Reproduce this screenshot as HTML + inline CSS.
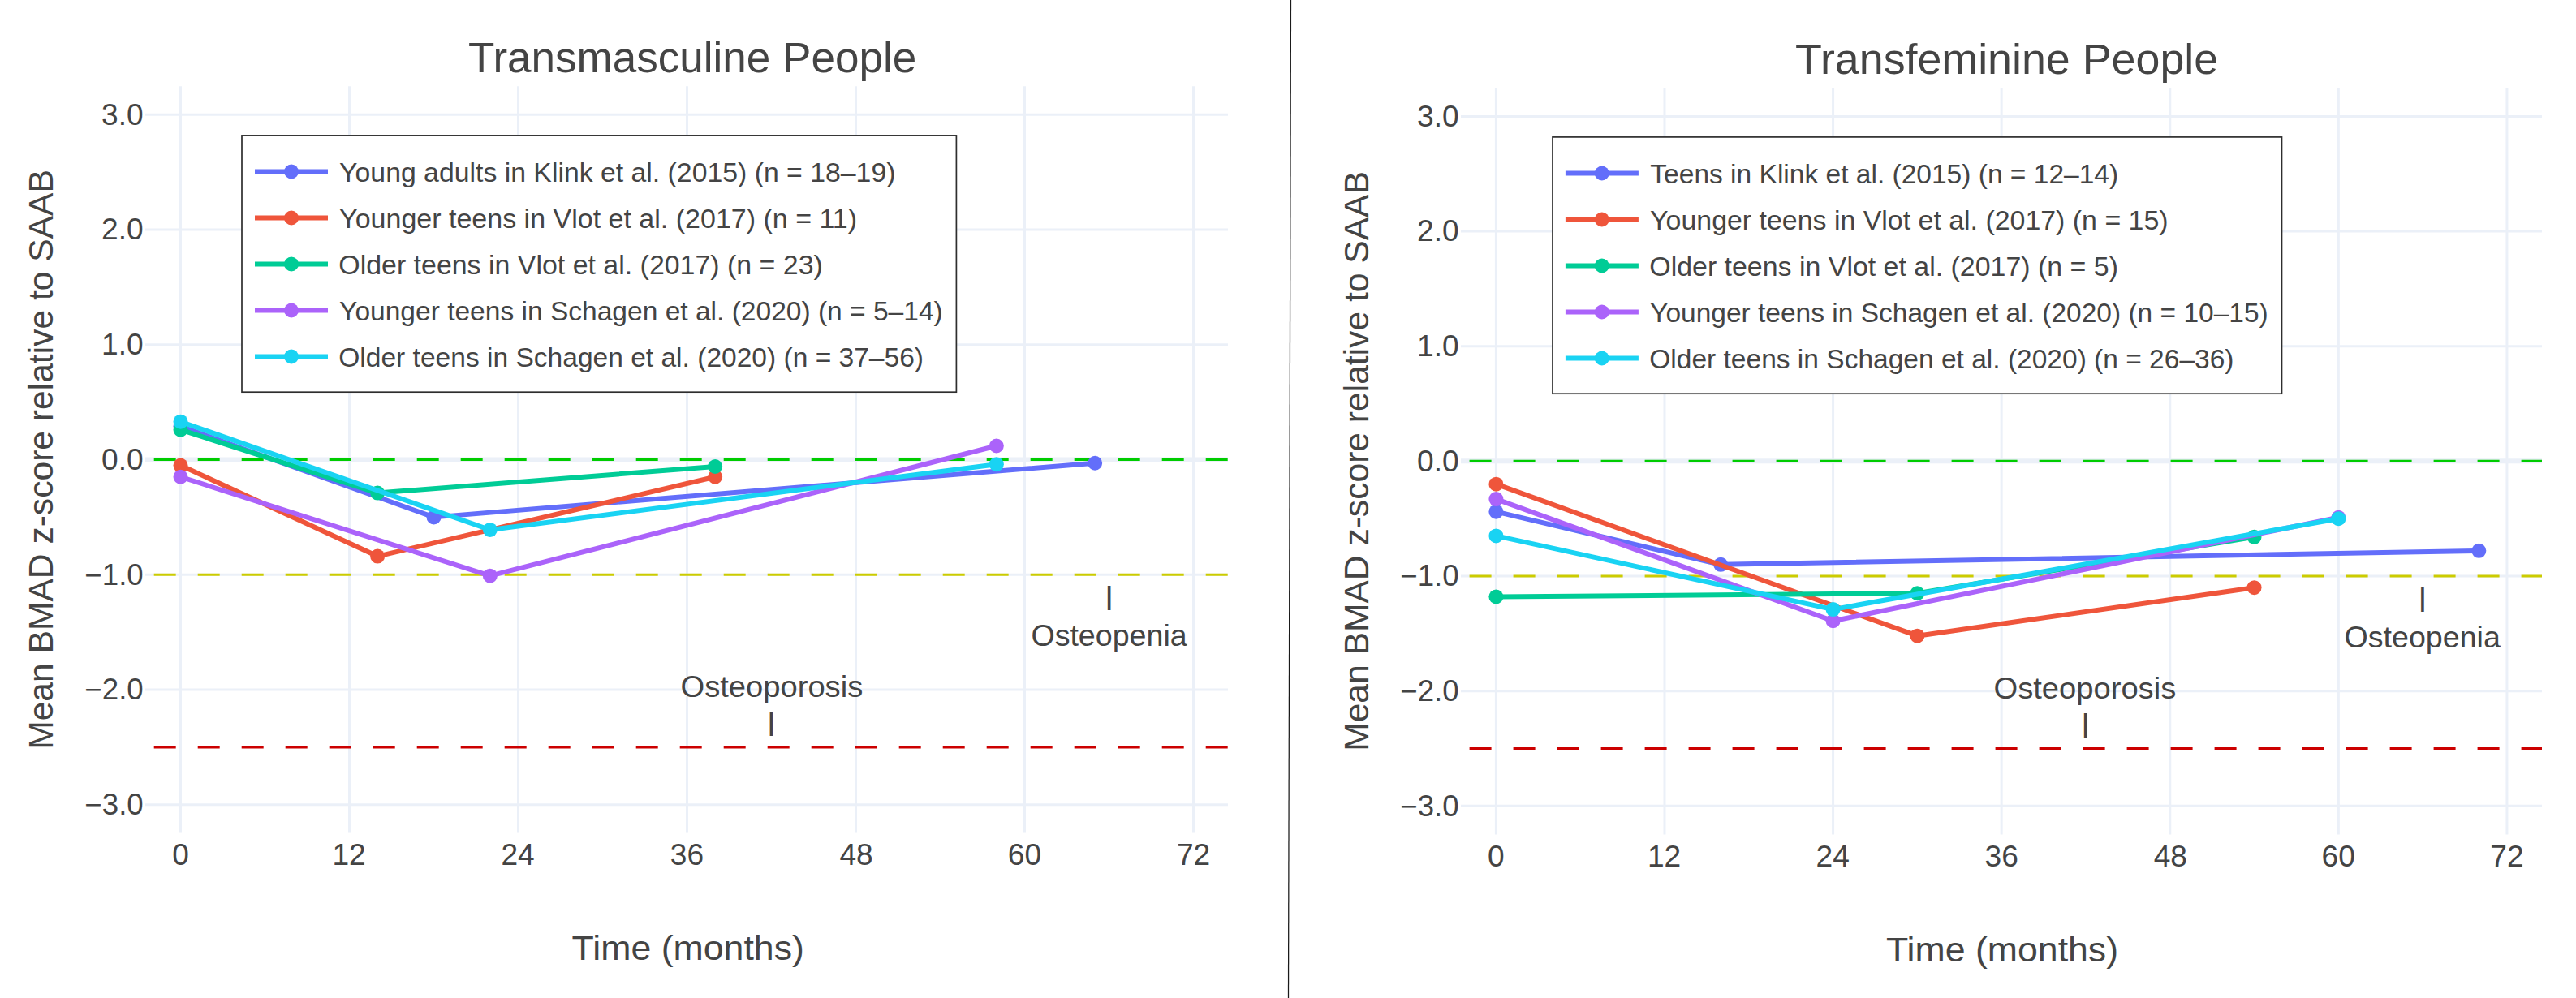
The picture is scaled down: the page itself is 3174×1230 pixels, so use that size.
<!DOCTYPE html>
<html lang="en"><head><meta charset="utf-8"><title>Mean BMAD z-score relative to SAAB</title>
<style>
html,body{margin:0;padding:0;background:#fff;}
body{width:3174px;height:1230px;overflow:hidden;}
svg{display:block;}
text{font-family:'Liberation Sans', sans-serif;fill:#444444;white-space:pre;}
</style></head><body>
<svg width="3174" height="1230" viewBox="0 0 3174 1230">
<rect x="0" y="0" width="3174" height="1230" fill="#ffffff"/>
<g id="plot0">
<clipPath id="clip0"><rect x="179.0" y="106.2" width="1334.0" height="920.3"/></clipPath>
<g stroke="#EBF0F8" stroke-width="3" fill="none"><path d="M222.50,106.2V1026.5"/><path d="M430.50,106.2V1026.5"/><path d="M638.50,106.2V1026.5"/><path d="M846.50,106.2V1026.5"/><path d="M1054.50,106.2V1026.5"/><path d="M1262.50,106.2V1026.5"/><path d="M1470.50,106.2V1026.5"/><path d="M179.0,141.25H1513.0"/><path d="M179.0,283.00H1513.0"/><path d="M179.0,424.75H1513.0"/><path d="M179.0,708.25H1513.0"/><path d="M179.0,850.00H1513.0"/><path d="M179.0,991.75H1513.0"/><path d="M179.0,566.50H1513.0" stroke-width="6"/></g>
<g clip-path="url(#clip0)" stroke-width="3" stroke-dasharray="27,27" fill="none"><path d="M189.7,566.50H1543.0" stroke="#00CC00"/><path d="M189.7,708.25H1543.0" stroke="#CCCC00"/><path d="M189.7,920.88H1543.0" stroke="#CC0000"/></g>
<g><path d="M222.50,525.39L534.50,637.38L1349.16,570.75" fill="none" stroke="#636EFA" stroke-width="6" stroke-linejoin="round"/><circle cx="222.50" cy="525.39" r="9" fill="#636EFA"/><circle cx="534.50" cy="637.38" r="9" fill="#636EFA"/><circle cx="1349.16" cy="570.75" r="9" fill="#636EFA"/></g>
<g><path d="M222.50,573.59L465.17,685.57L881.17,587.76" fill="none" stroke="#EF553B" stroke-width="6" stroke-linejoin="round"/><circle cx="222.50" cy="573.59" r="9" fill="#EF553B"/><circle cx="465.17" cy="685.57" r="9" fill="#EF553B"/><circle cx="881.17" cy="587.76" r="9" fill="#EF553B"/></g>
<g><path d="M222.50,529.64L465.17,607.61L881.17,575.00" fill="none" stroke="#00CC96" stroke-width="6" stroke-linejoin="round"/><circle cx="222.50" cy="529.64" r="9" fill="#00CC96"/><circle cx="465.17" cy="607.61" r="9" fill="#00CC96"/><circle cx="881.17" cy="575.00" r="9" fill="#00CC96"/></g>
<g><path d="M222.50,587.76L603.83,709.67L1227.83,549.49" fill="none" stroke="#AB63FA" stroke-width="6" stroke-linejoin="round"/><circle cx="222.50" cy="587.76" r="9" fill="#AB63FA"/><circle cx="603.83" cy="709.67" r="9" fill="#AB63FA"/><circle cx="1227.83" cy="549.49" r="9" fill="#AB63FA"/></g>
<g><path d="M222.50,519.72L603.83,652.97L1227.83,572.17" fill="none" stroke="#19D3F3" stroke-width="6" stroke-linejoin="round"/><circle cx="222.50" cy="519.72" r="9" fill="#19D3F3"/><circle cx="603.83" cy="652.97" r="9" fill="#19D3F3"/><circle cx="1227.83" cy="572.17" r="9" fill="#19D3F3"/></g>
<g>
<text x="125.10" y="153.55" font-size="36" textLength="51.60" lengthAdjust="spacingAndGlyphs">3.0</text>
<text x="125.10" y="295.30" font-size="36" textLength="51.60" lengthAdjust="spacingAndGlyphs">2.0</text>
<text x="125.10" y="437.05" font-size="36" textLength="51.60" lengthAdjust="spacingAndGlyphs">1.0</text>
<text x="125.10" y="578.80" font-size="36" textLength="51.60" lengthAdjust="spacingAndGlyphs">0.0</text>
<text x="104.38" y="720.55" font-size="36" textLength="72.32" lengthAdjust="spacingAndGlyphs">−1.0</text>
<text x="104.38" y="862.30" font-size="36" textLength="72.32" lengthAdjust="spacingAndGlyphs">−2.0</text>
<text x="104.38" y="1004.05" font-size="36" textLength="72.32" lengthAdjust="spacingAndGlyphs">−3.0</text>
<text x="212.20" y="1065.90" font-size="36" textLength="20.63" lengthAdjust="spacingAndGlyphs">0</text>
<text x="409.41" y="1065.90" font-size="36" textLength="41.25" lengthAdjust="spacingAndGlyphs">12</text>
<text x="617.45" y="1065.90" font-size="36" textLength="41.25" lengthAdjust="spacingAndGlyphs">24</text>
<text x="825.89" y="1065.90" font-size="36" textLength="41.25" lengthAdjust="spacingAndGlyphs">36</text>
<text x="1034.42" y="1065.90" font-size="36" textLength="41.25" lengthAdjust="spacingAndGlyphs">48</text>
<text x="1241.77" y="1065.90" font-size="36" textLength="41.25" lengthAdjust="spacingAndGlyphs">60</text>
<text x="1449.93" y="1065.90" font-size="36" textLength="41.25" lengthAdjust="spacingAndGlyphs">72</text>
</g>
<text x="576.99" y="88.90" font-size="51" textLength="552.23" lengthAdjust="spacingAndGlyphs">Transmasculine People</text>
<text x="704.60" y="1182.70" font-size="42" textLength="286.37" lengthAdjust="spacingAndGlyphs">Time (months)</text>
<text transform="translate(64.70,923.81) rotate(-90)" x="0" y="0" font-size="42" textLength="714.68" lengthAdjust="spacingAndGlyphs">Mean BMAD z-score relative to SAAB</text>
<text x="1270.42" y="795.90" font-size="36" textLength="192.23" lengthAdjust="spacingAndGlyphs">Osteopenia</text>
<text transform="translate(1360.98,744.95) scale(1.397,1.007)" x="0" y="0" font-size="31">|</text>
<text x="838.49" y="858.80" font-size="36" textLength="224.75" lengthAdjust="spacingAndGlyphs">Osteoporosis</text>
<text transform="translate(944.78,899.60) scale(1.397,1.000)" x="0" y="0" font-size="31">|</text>
<rect x="298.00" y="166.90" width="880.40" height="316.30" fill="#ffffff" stroke="#2e2e2e" stroke-width="1.7"/>
<g><path d="M314.0,211.50H404.0" stroke="#636EFA" stroke-width="6" fill="none"/><circle cx="359.0" cy="211.50" r="9" fill="#636EFA"/><text x="418.13" y="224.10" font-size="33" textLength="685.32" lengthAdjust="spacingAndGlyphs">Young adults in Klink et al. (2015) (n = 18–19)</text></g>
<g><path d="M314.0,268.50H404.0" stroke="#EF553B" stroke-width="6" fill="none"/><circle cx="359.0" cy="268.50" r="9" fill="#EF553B"/><text x="418.12" y="281.10" font-size="33" textLength="637.97" lengthAdjust="spacingAndGlyphs">Younger teens in Vlot et al. (2017) (n = 11)</text></g>
<g><path d="M314.0,325.50H404.0" stroke="#00CC96" stroke-width="6" fill="none"/><circle cx="359.0" cy="325.50" r="9" fill="#00CC96"/><text x="417.25" y="338.10" font-size="33" textLength="596.61" lengthAdjust="spacingAndGlyphs">Older teens in Vlot et al. (2017) (n = 23)</text></g>
<g><path d="M314.0,382.50H404.0" stroke="#AB63FA" stroke-width="6" fill="none"/><circle cx="359.0" cy="382.50" r="9" fill="#AB63FA"/><text x="418.13" y="395.10" font-size="33" textLength="743.62" lengthAdjust="spacingAndGlyphs">Younger teens in Schagen et al. (2020) (n = 5–14)</text></g>
<g><path d="M314.0,439.50H404.0" stroke="#19D3F3" stroke-width="6" fill="none"/><circle cx="359.0" cy="439.50" r="9" fill="#19D3F3"/><text x="417.27" y="452.10" font-size="33" textLength="720.75" lengthAdjust="spacingAndGlyphs">Older teens in Schagen et al. (2020) (n = 37–56)</text></g>
</g>
<g id="plot1">
<clipPath id="clip1"><rect x="1800.0" y="108.1" width="1332.0" height="920.4999999999999"/></clipPath>
<g stroke="#EBF0F8" stroke-width="3" fill="none"><path d="M1843.40,108.1V1028.6"/><path d="M2050.99,108.1V1028.6"/><path d="M2258.58,108.1V1028.6"/><path d="M2466.16,108.1V1028.6"/><path d="M2673.75,108.1V1028.6"/><path d="M2881.34,108.1V1028.6"/><path d="M3088.93,108.1V1028.6"/><path d="M1800.0,143.40H3132.0"/><path d="M1800.0,285.05H3132.0"/><path d="M1800.0,426.70H3132.0"/><path d="M1800.0,710.00H3132.0"/><path d="M1800.0,851.65H3132.0"/><path d="M1800.0,993.30H3132.0"/><path d="M1800.0,568.35H3132.0" stroke-width="6"/></g>
<g clip-path="url(#clip1)" stroke-width="3" stroke-dasharray="27,27" fill="none"><path d="M1810.6,568.35H3162.0" stroke="#00CC00"/><path d="M1810.6,710.00H3162.0" stroke="#CCCC00"/><path d="M1810.6,922.48H3162.0" stroke="#CC0000"/></g>
<g><path d="M1843.40,630.68L2120.18,695.84L3054.33,678.84" fill="none" stroke="#636EFA" stroke-width="6" stroke-linejoin="round"/><circle cx="1843.40" cy="630.68" r="9" fill="#636EFA"/><circle cx="2120.18" cy="695.84" r="9" fill="#636EFA"/><circle cx="3054.33" cy="678.84" r="9" fill="#636EFA"/></g>
<g><path d="M1843.40,596.68L2362.37,783.66L2777.55,724.17" fill="none" stroke="#EF553B" stroke-width="6" stroke-linejoin="round"/><circle cx="1843.40" cy="596.68" r="9" fill="#EF553B"/><circle cx="2362.37" cy="783.66" r="9" fill="#EF553B"/><circle cx="2777.55" cy="724.17" r="9" fill="#EF553B"/></g>
<g><path d="M1843.40,735.50L2362.37,731.25L2777.55,661.84" fill="none" stroke="#00CC96" stroke-width="6" stroke-linejoin="round"/><circle cx="1843.40" cy="735.50" r="9" fill="#00CC96"/><circle cx="2362.37" cy="731.25" r="9" fill="#00CC96"/><circle cx="2777.55" cy="661.84" r="9" fill="#00CC96"/></g>
<g><path d="M1843.40,615.09L2258.58,765.24L2881.34,637.76" fill="none" stroke="#AB63FA" stroke-width="6" stroke-linejoin="round"/><circle cx="1843.40" cy="615.09" r="9" fill="#AB63FA"/><circle cx="2258.58" cy="765.24" r="9" fill="#AB63FA"/><circle cx="2881.34" cy="637.76" r="9" fill="#AB63FA"/></g>
<g><path d="M1843.40,660.42L2258.58,751.08L2881.34,639.18" fill="none" stroke="#19D3F3" stroke-width="6" stroke-linejoin="round"/><circle cx="1843.40" cy="660.42" r="9" fill="#19D3F3"/><circle cx="2258.58" cy="751.08" r="9" fill="#19D3F3"/><circle cx="2881.34" cy="639.18" r="9" fill="#19D3F3"/></g>
<g>
<text x="1746.00" y="155.70" font-size="36" textLength="51.60" lengthAdjust="spacingAndGlyphs">3.0</text>
<text x="1746.00" y="297.35" font-size="36" textLength="51.60" lengthAdjust="spacingAndGlyphs">2.0</text>
<text x="1746.00" y="439.00" font-size="36" textLength="51.60" lengthAdjust="spacingAndGlyphs">1.0</text>
<text x="1746.00" y="580.65" font-size="36" textLength="51.60" lengthAdjust="spacingAndGlyphs">0.0</text>
<text x="1725.28" y="722.30" font-size="36" textLength="72.32" lengthAdjust="spacingAndGlyphs">−1.0</text>
<text x="1725.28" y="863.95" font-size="36" textLength="72.32" lengthAdjust="spacingAndGlyphs">−2.0</text>
<text x="1725.28" y="1005.60" font-size="36" textLength="72.32" lengthAdjust="spacingAndGlyphs">−3.0</text>
<text x="1833.10" y="1067.80" font-size="36" textLength="20.63" lengthAdjust="spacingAndGlyphs">0</text>
<text x="2029.90" y="1067.80" font-size="36" textLength="41.25" lengthAdjust="spacingAndGlyphs">12</text>
<text x="2237.52" y="1067.80" font-size="36" textLength="41.25" lengthAdjust="spacingAndGlyphs">24</text>
<text x="2445.56" y="1067.80" font-size="36" textLength="41.25" lengthAdjust="spacingAndGlyphs">36</text>
<text x="2653.67" y="1067.80" font-size="36" textLength="41.25" lengthAdjust="spacingAndGlyphs">48</text>
<text x="2860.61" y="1067.80" font-size="36" textLength="41.25" lengthAdjust="spacingAndGlyphs">60</text>
<text x="3068.36" y="1067.80" font-size="36" textLength="41.25" lengthAdjust="spacingAndGlyphs">72</text>
</g>
<text x="2212.08" y="90.80" font-size="51" textLength="521.07" lengthAdjust="spacingAndGlyphs">Transfeminine People</text>
<text x="2324.00" y="1185.00" font-size="42" textLength="286.06" lengthAdjust="spacingAndGlyphs">Time (months)</text>
<text transform="translate(1685.70,925.81) rotate(-90)" x="0" y="0" font-size="42" textLength="714.68" lengthAdjust="spacingAndGlyphs">Mean BMAD z-score relative to SAAB</text>
<text x="2888.52" y="797.80" font-size="36" textLength="192.33" lengthAdjust="spacingAndGlyphs">Osteopenia</text>
<text transform="translate(2979.28,746.98) scale(1.397,1.003)" x="0" y="0" font-size="31">|</text>
<text x="2456.49" y="860.90" font-size="36" textLength="224.75" lengthAdjust="spacingAndGlyphs">Osteoporosis</text>
<text transform="translate(2563.88,901.68) scale(1.397,1.003)" x="0" y="0" font-size="31">|</text>
<rect x="1913.00" y="168.90" width="898.50" height="316.30" fill="#ffffff" stroke="#2e2e2e" stroke-width="1.7"/>
<g><path d="M1928.9,213.50H2018.9" stroke="#636EFA" stroke-width="6" fill="none"/><circle cx="1973.8" cy="213.50" r="9" fill="#636EFA"/><text x="2033.35" y="226.10" font-size="33" textLength="576.83" lengthAdjust="spacingAndGlyphs">Teens in Klink et al. (2015) (n = 12–14)</text></g>
<g><path d="M1928.9,270.50H2018.9" stroke="#EF553B" stroke-width="6" fill="none"/><circle cx="1973.8" cy="270.50" r="9" fill="#EF553B"/><text x="2033.12" y="283.10" font-size="33" textLength="638.48" lengthAdjust="spacingAndGlyphs">Younger teens in Vlot et al. (2017) (n = 15)</text></g>
<g><path d="M1928.9,327.50H2018.9" stroke="#00CC96" stroke-width="6" fill="none"/><circle cx="1973.8" cy="327.50" r="9" fill="#00CC96"/><text x="2032.25" y="340.10" font-size="33" textLength="577.70" lengthAdjust="spacingAndGlyphs">Older teens in Vlot et al. (2017) (n = 5)</text></g>
<g><path d="M1928.9,384.50H2018.9" stroke="#AB63FA" stroke-width="6" fill="none"/><circle cx="1973.8" cy="384.50" r="9" fill="#AB63FA"/><text x="2033.14" y="397.10" font-size="33" textLength="761.61" lengthAdjust="spacingAndGlyphs">Younger teens in Schagen et al. (2020) (n = 10–15)</text></g>
<g><path d="M1928.9,441.50H2018.9" stroke="#19D3F3" stroke-width="6" fill="none"/><circle cx="1973.8" cy="441.50" r="9" fill="#19D3F3"/><text x="2032.27" y="454.10" font-size="33" textLength="720.25" lengthAdjust="spacingAndGlyphs">Older teens in Schagen et al. (2020) (n = 26–36)</text></g>
</g>
<path d="M1590.5,0L1587.5,1230" stroke="#1a1a1a" stroke-width="1.25" fill="none"/>
</svg>
</body></html>
